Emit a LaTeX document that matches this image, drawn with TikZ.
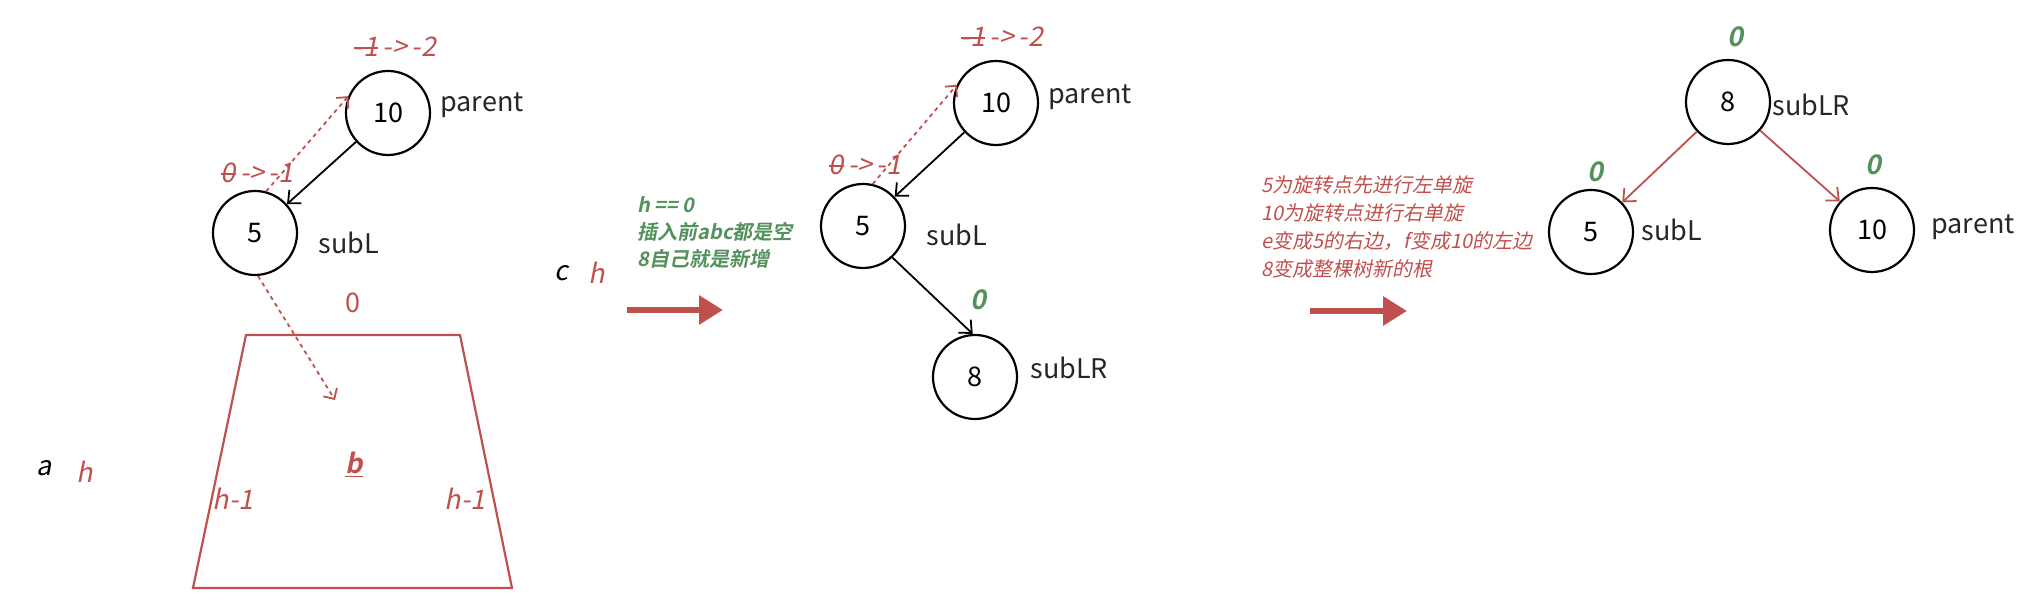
\documentclass[tikz,border=0pt]{standalone}
\usepackage{fontspec}
\setmainfont{Noto Sans CJK SC}
\newfontfamily\itf[FakeSlant=0.2]{Noto Sans CJK SC}
\newfontfamily\bitf[FakeSlant=0.2]{Noto Sans CJK SC Bold}
\newsavebox\strkbox
\newcommand\mystrk[1]{\sbox\strkbox{#1}\rlap{\usebox\strkbox}\rule[0.3em]{\wd\strkbox}{0.06em}}
\usetikzlibrary{arrows.meta}
\definecolor{myred}{RGB}{192,80,77}
\definecolor{mygreen}{RGB}{84,145,92}
\begin{document}
\begin{tikzpicture}[x=0.5pt,y=-0.5pt,
 circ/.style={circle,draw,line width=1.1pt,minimum size=42pt,inner sep=0pt,font=\fontsize{13.5}{16}\selectfont},
 lbl/.style={font=\fontsize{13.5}{16}\selectfont,text=black!85,inner sep=0pt},
 rlbl/.style={font=\itf\fontsize{13.5}{16}\selectfont,text=myred,inner sep=0pt},
 rup/.style={font=\fontsize{13.5}{16}\selectfont,text=myred,inner sep=0pt},
 glbl/.style={font=\bitf\fontsize{13.5}{16}\selectfont,text=mygreen,inner sep=0pt},
 barrow/.style={line width=0.9pt,-{Straight Barb[length=5pt,width=9pt]}},
 rdot/.style={myred,line width=0.9pt,dash pattern=on 2pt off 2pt,-{Straight Barb[length=4pt,width=8pt]}},
 rarrow/.style={myred,line width=0.9pt,-{Straight Barb[length=5pt,width=9pt]}},
 bigarrow/.style={myred,line width=3pt,-{Triangle[length=12pt,width=14pt]}},
 note/.style={align=left,inner sep=0pt,anchor=west},
]
\useasboundingbox (0,0) rectangle (2040,608);

% ---------- panel 1 ----------
\node[circ] (n10a) at (388,113) {10};
\node[circ] (n5a) at (255,233) {5};
\node[lbl,anchor=west] (pa) at (440,105) {parent};
\node[lbl,anchor=west] (sa) at (318,243) {subL};
\node[rlbl] (bfa) at (395,47) {\mystrk{-1}\,->\,-2};
\node[rlbl] (bfa2) at (257,173) {\mystrk{0}\,->\,-1};
\node[rup] (za) at (353,303) {0};
\draw[barrow] (n10a) -- (n5a);
\draw[rdot] (n5a.75) -- (n10a.157);
\coordinate (bt) at (335,400);
\draw[rdot] (n5a.-86) -- (bt);
\draw[myred,line width=1.1pt] (246,335) -- (460,335) -- (512,588) -- (193,588) -- cycle;
\node[glbl,text=myred] (bb) at (354,465) {\underline{b}};
\node[rlbl] (hl) at (233,499) {h-1};
\node[rlbl] (hr) at (465,499) {h-1};
\node[font=\itf\fontsize{13.5}{16}\selectfont,inner sep=0pt] (la) at (44,468) {a};
\node[rlbl] (lah) at (85,472) {h};
\node[font=\itf\fontsize{13.5}{16}\selectfont,inner sep=0pt] (lc) at (561,273) {c};
\node[rlbl] (lch) at (597,273) {h};

\node[note,text=mygreen,font=\bitf\fontsize{10}{13.5}\selectfont] (gnote) at (637,232) {h == 0\\插入前abc都是空\\8自己就是新增};
\coordinate (a1s) at (627,310);
\coordinate (a1e) at (723,310);
\draw[bigarrow] (a1s) -- (a1e);

% ---------- panel 2 ----------
\node[circ] (n10b) at (996,103) {10};
\node[circ] (n5b) at (863,226) {5};
\node[circ] (n8b) at (975,377) {8};
\node[lbl,anchor=west] (pb) at (1048,97) {parent};
\node[lbl,anchor=west] (sb) at (926,235) {subL};
\node[lbl,anchor=west] (srb) at (1030,368) {subLR};
\node[rlbl] (bfb) at (1002,37) {\mystrk{-1}\,->\,-2};
\node[rlbl] (bfb2) at (865,165) {\mystrk{0}\,->\,-1};
\node[glbl] (zb) at (978,300) {0};
\draw[barrow] (n10b) -- (n5b);
\draw[rdot] (n5b.77) -- (n10b.155);
\draw[barrow] (n5b.-47) -- (n8b.93);

% ---------- panel 3 ----------
\node[note,text=myred,font=\itf\fontsize{10}{14}\selectfont] (rnote) at (1261,227) {5为旋转点先进行左单旋\\10为旋转点进行右单旋\\e变成5的右边，f变成10的左边\\8变成整棵树新的根};
\coordinate (a2s) at (1310,311);
\coordinate (a2e) at (1407,311);
\draw[bigarrow] (a2s) -- (a2e);

% ---------- panel 4 ----------
\node[circ] (n8c) at (1728,102) {8};
\node[circ] (n5c) at (1591,232) {5};
\node[circ] (n10c) at (1872,230) {10};
\node[lbl,anchor=west] (src) at (1772,105) {subLR};
\node[lbl,anchor=west] (sc) at (1641,230) {subL};
\node[lbl,anchor=west] (pc) at (1931,227) {parent};
\node[glbl] (zc1) at (1735,37) {0};
\node[glbl] (zc2) at (1595,172) {0};
\node[glbl] (zc3) at (1873,165) {0};
\draw[rarrow] (n8c) -- (n5c);
\draw[rarrow] (n8c) -- (n10c);
\end{tikzpicture}
\end{document}
